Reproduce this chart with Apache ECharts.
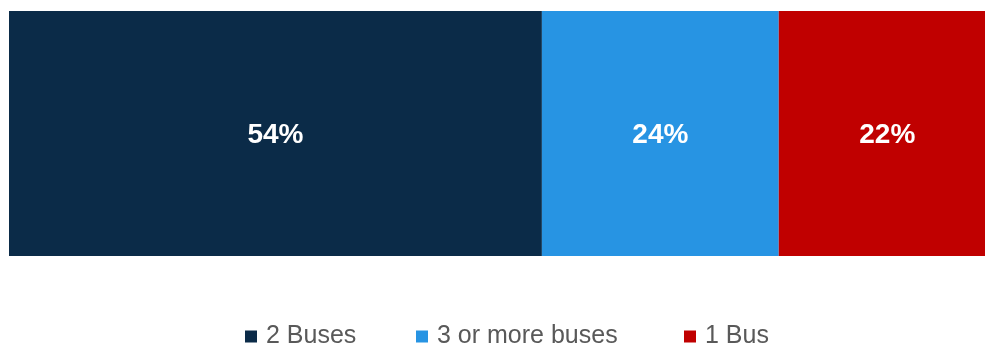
<!DOCTYPE html>
<html>
<head>
<meta charset="utf-8">
<style>
  html, body { margin: 0; padding: 0; background: #ffffff; }
  #chart { width: 985px; height: 347px; }
</style>
<script src="https://cdn.jsdelivr.net/npm/echarts@6/dist/echarts.min.js"></script>
</head>
<body>
<div id="chart"></div>
<script>
// Share of respondents by number of buses
const categories = ['Buses'];
const seriesNames = ['2 Buses', '3 or more buses', '1 Bus'];
const seriesValues = [[54], [24], [22]];
const seriesColors = ['#0B2B48', '#2794E3', '#C00000'];
const legendLeft = [240, 411, 679];

const chart = echarts.init(document.getElementById('chart'), null, { renderer: 'canvas' });

const series = seriesNames.map((name, i) => ({
  name: name,
  type: 'bar',
  stack: 'total',
  barWidth: '100%',
  clip: false,
  data: seriesValues[i],
  itemStyle: { color: seriesColors[i] },
  label: {
    show: true,
    position: 'inside',
    offset: [0, 2],
    formatter: p => p.value + '%',
    color: '#ffffff',
    fontFamily: 'Liberation Sans, Arial, sans-serif',
    fontWeight: 'bold',
    fontSize: 28
  },
  emphasis: { disabled: true }
}));

// one legend entry per series, laid out in a row
const legends = seriesNames.map((name, i) => ({
  left: legendLeft[i],
  top: 319,
  itemWidth: 12,
  itemHeight: 12,
  icon: 'rect',
  selectedMode: false,
  textStyle: {
    color: '#595959',
    fontFamily: 'Liberation Sans, Arial, sans-serif',
    fontSize: 25,
    padding: [0, 0, 0, 4]
  },
  data: [name]
}));

chart.setOption({
  animation: false,
  grid: { left: 9, top: 11, right: 0, height: 245, containLabel: false },
  // the bar runs on past the right edge of the canvas
  xAxis: {
    type: 'value', min: 0, max: 98.9,
    show: false
  },
  yAxis: {
    type: 'category', data: categories,
    show: false
  },
  legend: legends,
  series: series
});
</script>
</body>
</html>
